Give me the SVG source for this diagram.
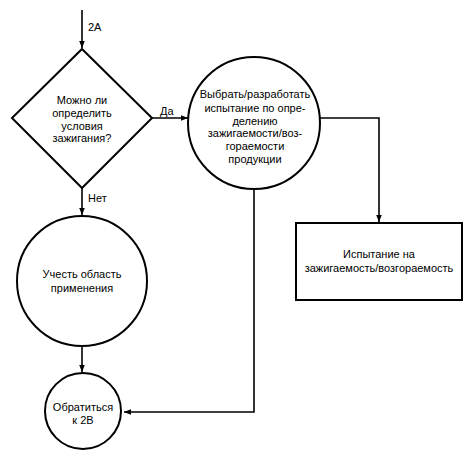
<svg xmlns="http://www.w3.org/2000/svg" width="469" height="459" viewBox="0 0 469 459">
<style>
.s{fill:#fff;stroke:#000;stroke-width:2}
.c{fill:none;stroke:#000;stroke-width:1.6}
text{font-family:"Liberation Sans",Arial,sans-serif;font-size:11px;fill:#000}
.m{text-anchor:middle}
</style>
<defs>
<marker id="a" viewBox="0 0 10 10" refX="10" refY="5" markerWidth="7" markerHeight="7" markerUnits="userSpaceOnUse" orient="auto">
<path d="M0,1 L10,5 L0,9 Z" fill="#000"/>
</marker>
</defs>
<g id="connectors">
<line class="c" x1="82" y1="10" x2="82" y2="48" marker-end="url(#a)"/>
<text x="88" y="31">2А</text>
<line class="c" x1="152" y1="118" x2="188" y2="118" marker-end="url(#a)"/>
<text x="160" y="115">Да</text>
<line class="c" x1="82" y1="188" x2="82" y2="215" marker-end="url(#a)"/>
<text x="88" y="202">Нет</text>
<polyline class="c" points="318,118 379,118 379,222" marker-end="url(#a)"/>
<polyline class="c" points="254,189 254,412 124,412" marker-end="url(#a)"/>
<line class="c" x1="82" y1="346" x2="82" y2="372" marker-end="url(#a)"/>
</g>
<g id="decision">
<polygon class="s" points="82,49 152,118 82,188 12,118"/>
<text class="m" x="82" y="104">Можно ли</text>
<text class="m" x="82" y="117">определить</text>
<text class="m" x="82" y="130">условия</text>
<text class="m" x="82" y="142">зажигания?</text>
</g>
<g id="select">
<circle class="s" cx="254" cy="123" r="66"/>
<text class="m" x="255" y="98">Выбрать/разработать</text>
<text class="m" x="255" y="112">испытание по опре-</text>
<text class="m" x="255" y="125">делению</text>
<text class="m" x="255" y="137">зажигаемости/воз-</text>
<text class="m" x="255" y="150">гораемости</text>
<text class="m" x="255" y="163">продукции</text>
</g>
<g id="test">
<rect class="s" x="296" y="223" width="166" height="77"/>
<text class="m" x="379" y="258">Испытание на</text>
<text class="m" x="379" y="272">зажигаемость/возгораемость</text>
</g>
<g id="scope">
<circle class="s" cx="82" cy="281" r="65"/>
<text class="m" x="82" y="278">Учесть область</text>
<text class="m" x="82" y="292">применения</text>
</g>
<g id="goto2b">
<circle class="s" cx="83" cy="411" r="38"/>
<text class="m" x="83" y="411">Обратиться</text>
<text class="m" x="83" y="424">к 2В</text>
</g>
</svg>
